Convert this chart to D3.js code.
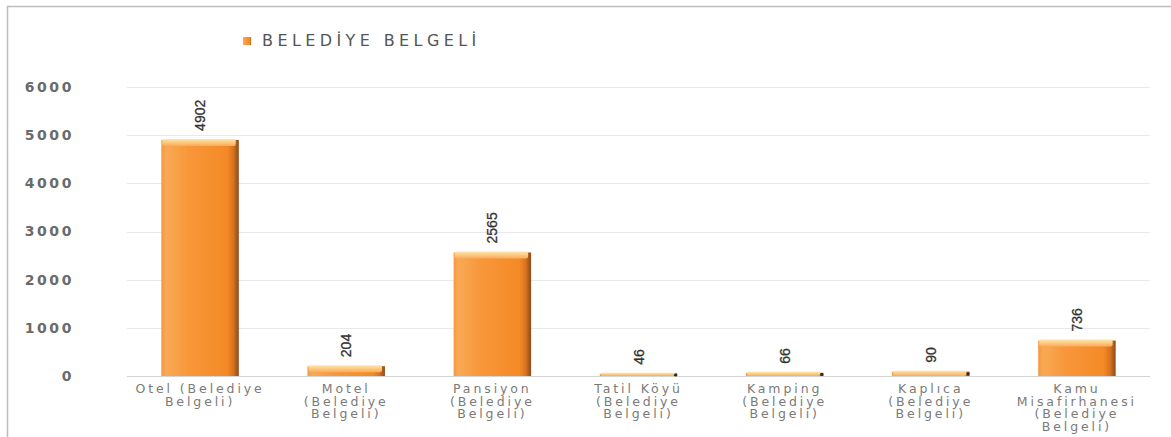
<!DOCTYPE html>
<html><head><meta charset="utf-8">
<script src="https://cdn.jsdelivr.net/npm/d3@7/dist/d3.min.js"></script>
<style>body{margin:0;background:#fff;}svg{display:block;}</style>
</head><body>
<script>
const categories = [
  ["Otel (Belediye", "Belgeli)"],
  ["Motel", "(Belediye", "Belgeli)"],
  ["Pansiyon", "(Belediye", "Belgeli)"],
  ["Tatil Köyü", "(Belediye", "Belgeli)"],
  ["Kamping", "(Belediye", "Belgeli)"],
  ["Kaplıca", "(Belediye", "Belgeli)"],
  ["Kamu", "Misafirhanesi", "(Belediye", "Belgeli)"]
];
const values = [4902, 204, 2565, 46, 66, 90, 736];
const yTicks = [0, 1000, 2000, 3000, 4000, 5000, 6000];
const seriesName = "BELEDİYE BELGELİ";

const W = 1171, H = 437;
const svg = d3.select("body").append("svg").attr("width", W).attr("height", H);

const defs = svg.append("defs");
const g1 = defs.append("linearGradient").attr("id", "barGrad").attr("x1", 0).attr("x2", 1).attr("y1", 0).attr("y2", 0);
[[0, "#f5973f"], [0.06, "#f8a955"], [0.35, "#f8973a"], [0.85, "#f48a26"], [0.93, "#d8721e"], [1, "#8a4a1c"]]
  .forEach(([o, c]) => g1.append("stop").attr("offset", o).attr("stop-color", c));
const g2 = defs.append("linearGradient").attr("id", "capGrad").attr("x1", 0).attr("x2", 0).attr("y1", 0).attr("y2", 1);
[[0, "#fde6ad"], [0.5, "#fcca82"], [1, "#f8ab5c"]]
  .forEach(([o, c]) => g2.append("stop").attr("offset", o).attr("stop-color", c));

// frame
svg.append("line").attr("x1", 7).attr("x2", W).attr("y1", 6.5).attr("y2", 6.5).attr("stroke", "#bdbdbd").attr("stroke-width", 1.5);
svg.append("line").attr("x1", 7.5).attr("x2", 7.5).attr("y1", 6).attr("y2", H).attr("stroke", "#bdbdbd").attr("stroke-width", 1.5);

const x = d3.scaleBand().domain(d3.range(categories.length)).range([127, 1150]).paddingInner(0.47).paddingOuter(0.235);
const y = d3.scaleLinear().domain([0, 6000]).range([376, 87]);

// gridlines
svg.append("g").selectAll("line").data(yTicks).join("line")
  .attr("x1", 127).attr("x2", 1150)
  .attr("y1", d => Math.round(y(d)) + 0.5).attr("y2", d => Math.round(y(d)) + 0.5)
  .attr("stroke", d => d === 0 ? "#d4d4d4" : "#e9e9e9").attr("stroke-width", 1.2);

// y axis labels
const yAxis = d3.axisLeft(y).tickValues(yTicks).tickSize(0).tickPadding(0).tickFormat(d3.format("d"));
const ya = svg.append("g").attr("transform", "translate(74,0)").call(yAxis);
ya.select(".domain").remove();
ya.selectAll("text").attr("font-family", "DejaVu Sans").attr("font-size", 14).attr("font-weight", "bold")
  .attr("fill", "#6a6a6a").attr("letter-spacing", 2.6);

// bars
const bars = svg.append("g").selectAll("g").data(values).join("g");
bars.append("rect")
  .attr("x", (d, i) => x(i)).attr("width", x.bandwidth())
  .attr("y", d => y(d)).attr("height", d => y(0) - y(d))
  .attr("fill", "url(#barGrad)");
bars.append("rect")
  .attr("x", (d, i) => x(i) + 1).attr("width", x.bandwidth() - 4)
  .attr("y", d => y(d) - 1).attr("height", d => Math.min(7, y(0) - y(d) + 1))
  .attr("rx", 2)
  .attr("fill", "url(#capGrad)");
bars.append("circle")
  .attr("cx", (d, i) => x(i) + x.bandwidth() - 1.5).attr("cy", d => (y(d) + y(0)) / 2)
  .attr("r", d => (y(0) - y(d)) < 6 ? 1.6 : 0).attr("fill", "#3a2a1a");

// value labels
svg.append("g").selectAll("text").data(values).join("text")
  .attr("transform", (d, i) => `translate(${x(i) + x.bandwidth() / 2 + 5},${y(d) - 9}) rotate(-90)`)
  .attr("font-family", "Liberation Sans").attr("font-size", 14)
  .attr("fill", "#333").attr("text-anchor", "start").attr("stroke", "#333").attr("stroke-width", 0.3)
  .text(d => d);

// category labels
const cl = svg.append("g").selectAll("text").data(categories).join("text")
  .attr("x", (d, i) => x(i) + x.bandwidth() / 2)
  .attr("y", 393)
  .attr("text-anchor", "middle")
  .attr("font-family", "DejaVu Sans").attr("font-size", 12.5).attr("fill", "#7a7a7a").attr("letter-spacing", 2.9);
cl.selectAll("tspan").data(d => d).join("tspan")
  .attr("x", function () { return this.parentNode.getAttribute("x"); })
  .attr("dy", (d, j) => j === 0 ? 0 : 12.7)
  .text(d => d);

// legend
svg.append("rect").attr("x", 243).attr("y", 37).attr("width", 8).attr("height", 8).attr("fill", "url(#barGrad)");
svg.append("text").attr("x", 262).attr("y", 46)
  .attr("font-family", "DejaVu Sans").attr("font-size", 16).attr("fill", "#555")
  .attr("letter-spacing", 4.4).text(seriesName);
</script>
</body></html>
